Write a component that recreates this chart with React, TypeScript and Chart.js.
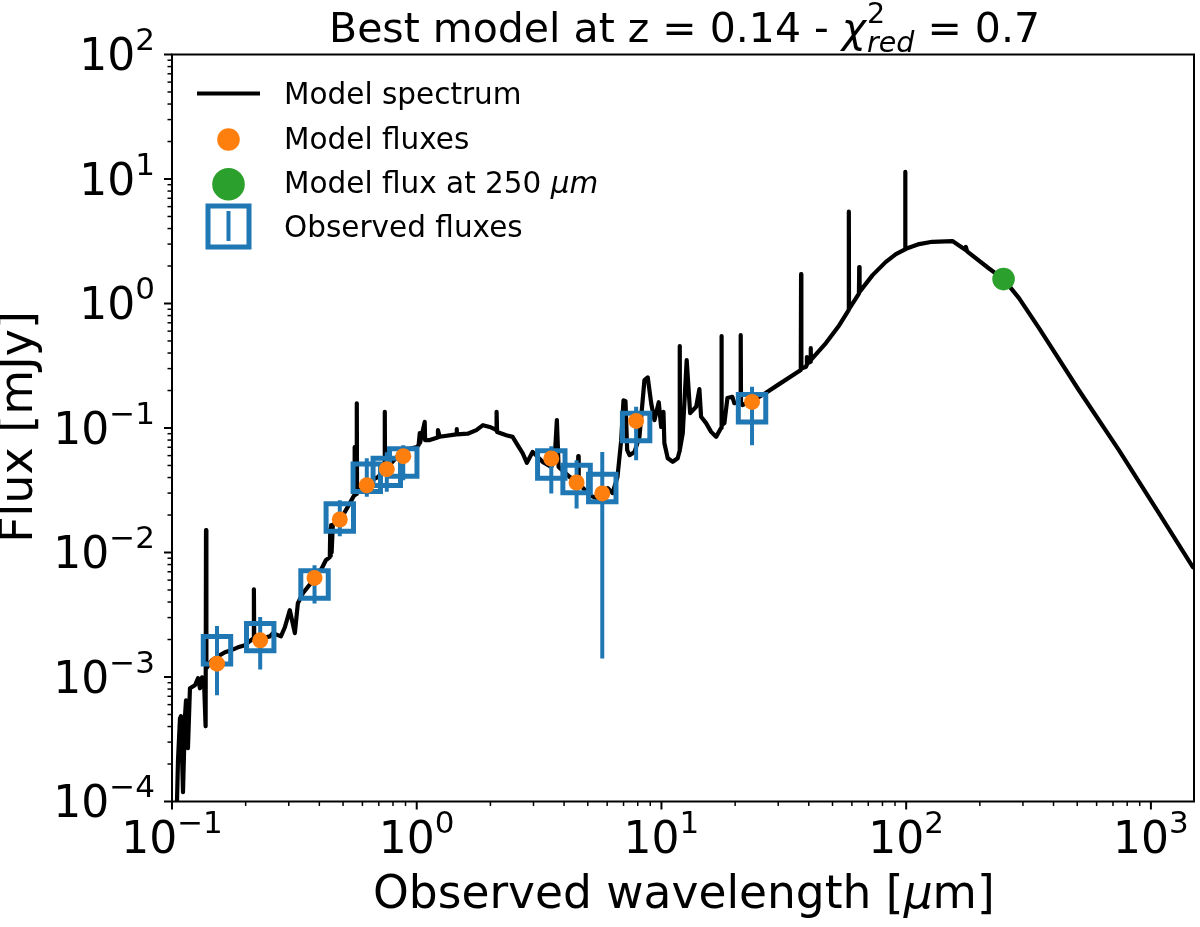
import React, { useEffect, useRef } from 'react';
import { Chart, registerables } from 'chart.js';

Chart.register(...registerables);

// model spectrum (um, mJy); each wave row lines up with the flux row of the same place
const specWave = [
  0.1048, 0.1058, 0.1078, 0.1088, 0.1109, 0.113, 0.1141, 0.1162, 0.1184, 0.1241,
  0.1277, 0.1301, 0.1326, 0.1351, 0.1372, 0.1377, 0.1382, 0.1456, 0.1527, 0.1646,
  0.1758, 0.186, 0.1986, 0.208, 0.2155, 0.2161, 0.2167, 0.233, 0.2512, 0.2584,
  0.2786, 0.2892, 0.303, 0.3177, 0.3268, 0.3426, 0.3834, 0.4095, 0.4252, 0.4414,
  0.4433, 0.4452, 0.4471, 0.449, 0.4541, 0.4849, 0.5083, 0.5326, 0.5556, 0.5572,
  0.5583, 0.5675, 0.569, 0.5703, 0.6134, 0.6551, 0.6931, 0.739, 0.7405, 0.742,
  0.7545, 0.8287, 0.8935, 1.0, 1.018, 1.029, 1.032, 1.078, 1.082, 1.13,
  1.218, 1.221, 1.241, 1.452, 1.456, 1.46, 1.615, 1.753, 1.865, 1.986,
  2.081, 2.115, 2.12, 2.13, 2.323, 2.465, 2.584, 2.708, 2.82, 2.975,
  3.268, 3.547, 3.658, 3.738, 3.799, 4.212, 4.56, 4.571, 4.59, 5.083,
  5.414, 6.037, 6.31, 6.613, 6.847, 6.997, 7.13, 7.244, 7.405, 7.76,
  8.13, 8.52, 8.79, 9.08, 9.36, 9.75, 9.97, 10.19, 10.28, 10.61,
  11.12, 11.65, 11.85, 11.88, 11.91, 12.22, 12.68, 13.1, 13.86, 14.29,
  14.52, 15.22, 15.96, 16.72, 17.52, 17.58, 17.64, 18.08, 18.6, 19.49,
  19.86, 21.02, 21.08, 21.14, 21.41, 23.52, 26.75, 29.83, 37.1, 37.2,
  37.3, 38.96, 39.2, 39.3, 39.4, 40.6, 40.7, 40.8, 47.0, 53.3, 58.2,
  58.3, 58.4, 64.1, 64.3, 64.5, 72.9, 82.6, 90.8, 99.0, 99.1, 99.3,
  113, 127.7, 154.5, 175.0, 175.3, 177.4, 218, 250, 289, 349,
  508, 740, 1078, 1484,
];
const specFlux = [
  1.0e-4, 2.14e-4, 4.66e-4, 4.84e-4, 1.19e-4, 4.84e-4, 6.5e-4, 2.68e-4, 8.12e-4, 8.58e-4,
  9.77e-4, 8.12e-4, 9.95e-4, 9.41e-4, 4.02e-4, 1.51e-2, 1.176e-3, 1.363e-3, 1.45e-3, 1.58e-3,
  1.65e-3, 1.73e-3, 1.8e-3, 1.94e-3, 2.05e-3, 5.07e-3, 2.05e-3, 2.05e-3, 2.12e-3, 2.25e-3,
  2.12e-3, 2.51e-3, 3.44e-3, 2.25e-3, 3.91e-3, 4.71e-3, 6.22e-3, 7.48e-3, 8.67e-3, 9.17e-3,
  1.55e-2, 9.4e-3, 1.66e-2, 1.0e-2, 1.66e-2, 1.85e-2, 2.11e-2, 2.49e-2, 2.89e-2, 7.02e-2,
  2.89e-2, 2.95e-2, 1.58e-1, 3.0e-2, 3.47e-2, 3.81e-2, 4.03e-2, 4.58e-2, 1.35e-1, 4.58e-2,
  4.76e-2, 5.83e-2, 6.64e-2, 7.02e-2, 7.28e-2, 9.09e-2, 7.6e-2, 1.12e-1, 7.99e-2, 8.0e-2,
  8.4e-2, 9.61e-2, 8.5e-2, 8.9e-2, 9.79e-2, 8.9e-2, 9.0e-2, 9.61e-2, 1.054e-1, 1.02e-1,
  9.79e-2, 9.6e-2, 1.35e-1, 9.3e-2, 8.76e-2, 8.49e-2, 7.28e-2, 6.28e-2, 5.25e-2, 6.43e-2,
  5.35e-2, 4.87e-2, 5.52e-2, 1.156e-1, 4.87e-2, 4.05e-2, 3.7e-2, 5.94e-2, 3.6e-2, 2.89e-2,
  2.73e-2, 3.29e-2, 3.0e-2, 4.05e-2, 7.99e-2, 1.67e-1, 1.64e-1, 6.64e-2, 6.05e-2, 6.43e-2,
  8.49e-2, 2.42e-1, 2.55e-1, 1.58e-1, 1.156e-1, 1.61e-1, 1.02e-1, 1.35e-1, 7.55e-2, 5.72e-2,
  5.35e-2, 5.72e-2, 6.5e-2, 4.55e-1, 6.8e-2, 9.09e-2, 3.51e-1, 1.316e-1, 1.48e-1, 2.05e-1,
  1.23e-1, 1.094e-1, 9.31e-2, 8.49e-2, 1.0e-1, 5.47e-1, 1.05e-1, 1.094e-1, 1.74e-1, 1.78e-1,
  1.58e-1, 1.6e-1, 5.57e-1, 1.6e-1, 1.53e-1, 1.65e-1, 1.92e-1, 2.21e-1, 2.92e-1, 1.72,
  3.0e-1, 3.1e-1, 3.2e-1, 3.71e-1, 3.3e-1, 3.4e-1, 4.38e-1, 3.51e-1, 4.81e-1, 6.7e-1, 8.85e-1,
  5.46, 9.0e-1, 1.2, 1.96, 1.24, 1.69, 2.16, 2.49, 2.72, 11.4, 2.74,
  3.0, 3.13, 3.17, 2.69, 2.85, 2.62, 1.91, 1.57, 1.105, 6.34e-1,
  2.01e-1, 6.64e-2, 2.07e-2, 7.62e-3,
];

// photometric bands
const bandWave = [0.1527, 0.2293, 0.3823, 0.4849, 0.6251, 0.7545, 0.8809, 3.547, 4.5, 5.73, 7.88, 23.45];
const obsFlux = [1.64e-3, 2.09e-3, 5.53e-3, 1.91e-2, 3.98e-2, 4.44e-2, 5.29e-2, 5.09e-2, 3.9e-2, 3.3e-2, 1.02e-1, 1.44e-1];
const obsLow = [7.13e-4, 1.15e-3, 3.89e-3, 1.35e-2, 2.8e-2, 3.07e-2, 3.81e-2, 2.98e-2, 2.26e-2, 1.41e-3, 5.52e-2, 7.28e-2];
const obsHigh = [2.57e-3, 3.04e-3, 7.91e-3, 2.63e-2, 5.72e-2, 6.4e-2, 7.28e-2, 7.15e-2, 5.52e-2, 6.43e-2, 1.48e-1, 2.14e-1];
const modelFlux = [1.28e-3, 1.97e-3, 6.25e-3, 1.84e-2, 3.47e-2, 4.67e-2, 5.94e-2, 5.69e-2, 3.65e-2, 2.98e-2, 1.14e-1, 1.62e-1];

const greenWave = [250];
const greenFlux = [1.57];

const xTicks = [0.1, 1, 10, 100, 1000];
const xTickExp = ['\u22121', '0', '1', '2', '3'];
const yTicks = [100, 10, 1, 0.1, 0.01, 0.001, 0.0001];
const yTickExp = ['2', '1', '0', '\u22121', '\u22122', '\u22123', '\u22124'];

const BLUE = '#1f77b4';
const ORANGE = '#ff7f0e';
const GREEN = '#2ca02c';
const FONT = '"DejaVu Sans"';

type Run = { text: string; size: number; italic?: boolean; dy?: number };

const fontOf = (r: Run) => `${r.italic ? 'italic ' : ''}${r.size}px ${FONT}`;

const runsWidth = (ctx: CanvasRenderingContext2D, runs: Run[]) =>
  runs.reduce((w, r) => {
    ctx.font = fontOf(r);
    return w + ctx.measureText(r.text).width;
  }, 0);

const drawRuns = (ctx: CanvasRenderingContext2D, x: number, y: number, runs: Run[]) => {
  let cx = x;
  runs.forEach(r => {
    ctx.font = fontOf(r);
    ctx.fillText(r.text, cx, y - (r.dy || 0));
    cx += ctx.measureText(r.text).width;
  });
  return cx;
};

const powerRuns = (exp: string): Run[] => [
  { text: '10', size: 44 },
  { text: exp, size: 31, dy: 20 },
];

const isDecadeStep = (v: number) => {
  const m = v / Math.pow(10, Math.floor(Math.log10(v) + 1e-9));
  return Math.abs(m - Math.round(m)) < 1e-6;
};

// matplotlib-style frame, ticks, labels and legend
const framePlugin = {
  id: 'frame',
  afterDraw(chart: any) {
    const { ctx, chartArea: a, scales } = chart;
    ctx.save();
    ctx.fillStyle = '#000';
    ctx.strokeStyle = '#000';
    ctx.textAlign = 'left';
    ctx.textBaseline = 'alphabetic';

    ctx.lineWidth = 2;
    ctx.strokeRect(a.left, a.top, a.right - a.left, a.bottom - a.top);

    scales.x.ticks.forEach((t: any) => {
      if (!isDecadeStep(t.value)) return;
      const px = scales.x.getPixelForValue(t.value);
      const major = xTicks.includes(t.value);
      ctx.lineWidth = major ? 2 : 1.5;
      ctx.beginPath();
      ctx.moveTo(px, a.bottom);
      ctx.lineTo(px, a.bottom + (major ? 8 : 4.5));
      ctx.stroke();
    });
    scales.y.ticks.forEach((t: any) => {
      if (!isDecadeStep(t.value)) return;
      const py = scales.y.getPixelForValue(t.value);
      const major = yTicks.some(v => Math.abs(v / t.value - 1) < 1e-6);
      ctx.lineWidth = major ? 2 : 1.5;
      ctx.beginPath();
      ctx.moveTo(a.left, py);
      ctx.lineTo(a.left - (major ? 8 : 4.5), py);
      ctx.stroke();
    });

    xTicks.forEach((v, i) => {
      const runs = powerRuns(xTickExp[i]);
      drawRuns(ctx, scales.x.getPixelForValue(v) - runsWidth(ctx, runs) / 2, 853, runs);
    });
    yTicks.forEach((v, i) => {
      const runs = powerRuns(yTickExp[i]);
      drawRuns(ctx, 155 - runsWidth(ctx, runs), scales.y.getPixelForValue(v) + 15.5, runs);
    });

    // axis titles
    drawRuns(ctx, 373, 908, [
      { text: 'Observed wavelength [', size: 45.5 },
      { text: '\u03bc', size: 45.5, italic: true },
      { text: 'm]', size: 45.5 },
    ]);
    ctx.save();
    ctx.translate(32, 427);
    ctx.rotate(-Math.PI / 2);
    ctx.font = `46px ${FONT}`;
    ctx.textAlign = 'center';
    ctx.fillText('Flux [mJy]', 0, 0);
    ctx.restore();

    // title, with the stacked chi-square scripts
    let tx = drawRuns(ctx, 329, 42, [
      { text: 'Best model at z = 0.14 - ', size: 41 },
      { text: '\u03c7', size: 41, italic: true },
    ]);
    drawRuns(ctx, tx + 1, 42, [{ text: '2', size: 28.5, dy: 19 }]);
    tx = drawRuns(ctx, tx + 1, 42, [{ text: 'red', size: 28.5, italic: true, dy: -10 }]);
    drawRuns(ctx, tx, 42, [{ text: ' = 0.7', size: 41 }]);

    // legend
    ctx.lineWidth = 3.8;
    ctx.beginPath();
    ctx.moveTo(197, 93.5);
    ctx.lineTo(260, 93.5);
    ctx.stroke();
    ctx.fillStyle = ORANGE;
    ctx.beginPath();
    ctx.arc(228.5, 139.5, 11.3, 0, Math.PI * 2);
    ctx.fill();
    ctx.fillStyle = GREEN;
    ctx.beginPath();
    ctx.arc(228.5, 184.3, 16.3, 0, Math.PI * 2);
    ctx.fill();
    ctx.strokeStyle = BLUE;
    ctx.lineWidth = 5;
    ctx.strokeRect(208, 206, 41, 41);
    ctx.lineWidth = 4;
    ctx.beginPath();
    ctx.moveTo(228.5, 211);
    ctx.lineTo(228.5, 241);
    ctx.stroke();
    ctx.fillStyle = '#000';
    drawRuns(ctx, 284, 104, [{ text: 'Model spectrum', size: 29.5 }]);
    drawRuns(ctx, 284, 148.5, [{ text: 'Model fluxes', size: 29.5 }]);
    drawRuns(ctx, 284, 193, [
      { text: 'Model flux at 250 ', size: 29.5 },
      { text: '\u03bcm', size: 29.5, italic: true },
    ]);
    drawRuns(ctx, 284, 237, [{ text: 'Observed fluxes', size: 29.5 }]);
    ctx.restore();
  },
};

const App: React.FC = () => {
  const chartRef = useRef<HTMLCanvasElement>(null);

  useEffect(() => {
    if (!chartRef.current) return;

    const errorPoints: any[] = [];
    bandWave.forEach((x, i) => {
      errorPoints.push({ x, y: obsLow[i] }, { x, y: obsHigh[i] }, { x, y: null });
    });

    const chart = new Chart(chartRef.current, {
      type: 'scatter',
      data: {
        datasets: [
          {
            label: 'Model spectrum',
            data: specWave.map((x, i) => ({ x, y: specFlux[i] })),
            showLine: true,
            borderColor: '#000',
            borderWidth: 4.2,
            borderJoinStyle: 'round',
            borderCapStyle: 'round',
            pointRadius: 0,
            order: 5,
          },
          {
            label: 'Observed errors',
            data: errorPoints,
            showLine: true,
            spanGaps: false,
            borderColor: BLUE,
            borderWidth: 4,
            pointRadius: 0,
            order: 4,
          },
          {
            label: 'Observed fluxes',
            data: bandWave.map((x, i) => ({ x, y: obsFlux[i] })),
            pointStyle: 'rect',
            pointRadius: 19.4,
            pointBorderWidth: 5,
            pointBorderColor: BLUE,
            pointBackgroundColor: 'rgba(0,0,0,0)',
            order: 3,
          },
          {
            label: 'Model flux at 250 um',
            data: greenWave.map((x, i) => ({ x, y: greenFlux[i] })),
            pointRadius: 11.3,
            pointBorderWidth: 0,
            pointBackgroundColor: GREEN,
            order: 2,
          },
          {
            label: 'Model fluxes',
            data: bandWave.map((x, i) => ({ x, y: modelFlux[i] })),
            pointRadius: 8,
            pointBorderWidth: 0,
            pointBackgroundColor: ORANGE,
            order: 1,
          },
        ],
      } as any,
      options: {
        responsive: false,
        animation: false,
        layout: { autoPadding: false, padding: { left: 172, top: 54.5, right: 6, bottom: 125.5 } },
        plugins: { legend: { display: false }, tooltip: { enabled: false } },
        scales: {
          x: {
            type: 'logarithmic',
            min: 0.1,
            max: 1500,
            grid: { display: false },
            border: { display: false },
            ticks: { display: false, autoSkip: false },
            afterFit: (s: any) => { s.height = 0; },
          },
          y: {
            type: 'logarithmic',
            min: 0.0001,
            max: 100,
            grid: { display: false },
            border: { display: false },
            ticks: { display: false, autoSkip: false },
            afterFit: (s: any) => { s.width = 0; },
          },
        },
      } as any,
      plugins: [framePlugin],
    });

    return () => {
      chart.destroy();
    };
  }, []);

  return (
    <div style={{ position: 'absolute', left: 0, top: 0, width: 1200, height: 927, background: '#fff' }}>
      <canvas ref={chartRef} width={1200} height={927} style={{ display: 'block' }}></canvas>
    </div>
  );
};

export default App;
